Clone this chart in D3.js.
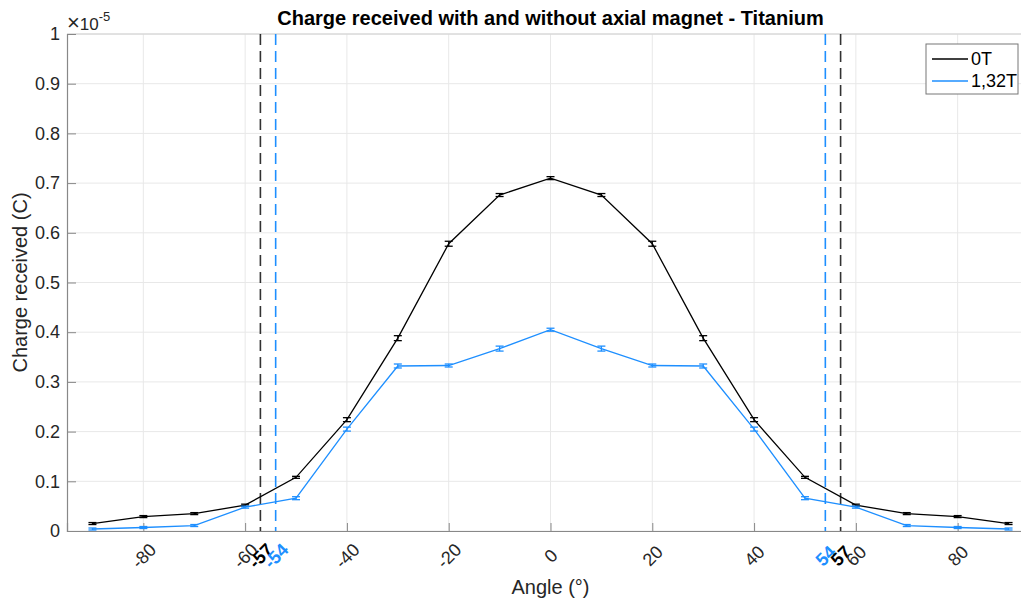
<!DOCTYPE html>
<html>
<head>
<meta charset="utf-8">
<script src="https://cdn.jsdelivr.net/npm/d3@7"></script>
<style>
  html, body { margin: 0; padding: 0; background: #fff; }
  svg { display: block; font-family: "Liberation Sans", Arial, Helvetica, sans-serif; }
</style>
</head>
<body>
<svg id="chart" width="1021" height="602"></svg>
<script>
// ---- data (charge in units of 1e-5 C) ----
const angles = [-90, -80, -70, -60, -50, -40, -30, -20, -10, 0, 10, 20, 30, 40, 50, 60, 70, 80, 90];
const charge0T = [0.015, 0.029, 0.035, 0.052, 0.108, 0.224, 0.388, 0.578, 0.676, 0.710, 0.676, 0.578, 0.388, 0.224, 0.108, 0.052, 0.035, 0.029, 0.015];
const err0T    = [0.002, 0.002, 0.002, 0.002, 0.002, 0.004, 0.005, 0.005, 0.003, 0.003, 0.003, 0.005, 0.005, 0.004, 0.002, 0.002, 0.002, 0.002, 0.002];
const charge132T = [0.004, 0.007, 0.011, 0.048, 0.066, 0.205, 0.332, 0.333, 0.367, 0.405, 0.367, 0.333, 0.332, 0.205, 0.066, 0.048, 0.011, 0.007, 0.004];
const err132T    = [0.002, 0.002, 0.002, 0.002, 0.003, 0.004, 0.004, 0.003, 0.005, 0.003, 0.005, 0.003, 0.004, 0.004, 0.003, 0.002, 0.002, 0.002, 0.002];
const seriesNames = ["0T", "1,32T"];
const xTicks = [-80, -60, -40, -20, 0, 20, 40, 60, 80];
const yTicks = [0, 0.1, 0.2, 0.3, 0.4, 0.5, 0.6, 0.7, 0.8, 0.9, 1];
const markerLines = [
  { angle: -57, series: 0 }, { angle: -54, series: 1 },
  { angle: 54, series: 1 }, { angle: 57, series: 0 }
];
const titleText = "Charge received with and without axial magnet - Titanium";
const xLabel = "Angle (°)";
const yLabel = "Charge received (C)";

// ---- layout ----
const colors = ["#000000", "#1E8FFF"];
const axisColor = "#262626";
const gridColor = "#e8e8e8";
const mLeft = 67, mRight = 1034, mTop = 34, mBottom = 531;

const svg = d3.select("#chart");
const x = d3.scaleLinear().domain([-95, 95]).range([mLeft, mRight]);
const y = d3.scaleLinear().domain([0, 1]).range([mBottom, mTop]);

svg.append("defs").append("clipPath").attr("id", "clip")
  .append("rect").attr("x", mLeft).attr("y", mTop).attr("width", mRight - mLeft).attr("height", mBottom - mTop);

// grid
const grid = svg.append("g");
grid.selectAll("line.gx").data(xTicks).join("line").attr("class", "gx")
  .attr("x1", d => x(d)).attr("x2", d => x(d)).attr("y1", mTop).attr("y2", mBottom)
  .attr("stroke", gridColor).attr("stroke-width", 1);
grid.selectAll("line.gy").data(yTicks).join("line").attr("class", "gy")
  .attr("x1", mLeft).attr("x2", mRight).attr("y1", d => y(d)).attr("y2", d => y(d))
  .attr("stroke", gridColor).attr("stroke-width", 1);

// box (top)
svg.append("line").attr("x1", mLeft).attr("x2", mRight).attr("y1", mTop).attr("y2", mTop)
  .attr("stroke", "#d0d0d0").attr("stroke-width", 1);

// y axis
const yAxis = d3.axisLeft(y).tickValues(yTicks).tickSize(-9).tickPadding(16)
  .tickFormat(d => d === 0 || d === 1 ? String(d) : d.toFixed(1));
const gy = svg.append("g").attr("transform", `translate(${mLeft},0)`).call(yAxis);
gy.select(".domain").attr("stroke", "#888").attr("stroke-width", 1.2);
gy.selectAll(".tick line").attr("stroke", "#888");
gy.selectAll(".tick text").attr("fill", axisColor).style("font-size", "18px")
  .attr("x", -7);

// x axis
const allXTicks = [...xTicks, ...markerLines.map(m => m.angle)].sort((a, b) => a - b);
const xAxis = d3.axisBottom(x).tickValues(allXTicks).tickSize(-8).tickFormat(d => String(d));
const gx = svg.append("g").attr("transform", `translate(0,${mBottom})`).call(xAxis);
gx.select(".domain").attr("stroke", "#888").attr("stroke-width", 1.2);
gx.selectAll(".tick line").attr("stroke", d => xTicks.includes(d) ? "#888" : "none");
gx.selectAll(".tick text")
  .attr("fill", d => {
    const m = markerLines.find(mm => mm.angle === d);
    return m ? colors[m.series] : axisColor;
  })
  .style("font-weight", d => markerLines.find(mm => mm.angle === d) ? "bold" : "normal")
  .style("font-size", "18px")
  .attr("text-anchor", "middle")
  .attr("dominant-baseline", "central")
  .attr("y", 0).attr("dy", 0)
  .attr("transform", "translate(0,25) rotate(-45)");

// dashed marker lines
svg.append("g").selectAll("line").data(markerLines).join("line")
  .attr("x1", d => x(d.angle)).attr("x2", d => x(d.angle))
  .attr("y1", mTop).attr("y2", mBottom)
  .attr("stroke", d => colors[d.series]).attr("stroke-width", 1.6)
  .attr("stroke-dasharray", "11,6").attr("opacity", d => d.series === 0 ? 0.8 : 1);

// series
const seriesData = [
  angles.map((a, i) => ({ a, v: charge0T[i], e: err0T[i] })),
  angles.map((a, i) => ({ a, v: charge132T[i], e: err132T[i] }))
];
const line = d3.line().x(d => x(d.a)).y(d => y(d.v));
const plot = svg.append("g").attr("clip-path", "url(#clip)");
seriesData.forEach((data, si) => {
  const g = plot.append("g");
  g.append("path").datum(data).attr("d", line)
    .attr("fill", "none").attr("stroke", colors[si]).attr("stroke-width", 1.3);
  const eb = g.selectAll("g.eb").data(data).join("g").attr("class", "eb");
  eb.append("line").attr("x1", d => x(d.a)).attr("x2", d => x(d.a))
    .attr("y1", d => y(d.v - d.e)).attr("y2", d => y(d.v + d.e))
    .attr("stroke", colors[si]).attr("stroke-width", 1.3);
  eb.append("line").attr("x1", d => x(d.a) - 4).attr("x2", d => x(d.a) + 4)
    .attr("y1", d => y(d.v - d.e)).attr("y2", d => y(d.v - d.e))
    .attr("stroke", colors[si]).attr("stroke-width", 1.3);
  eb.append("line").attr("x1", d => x(d.a) - 4).attr("x2", d => x(d.a) + 4)
    .attr("y1", d => y(d.v + d.e)).attr("y2", d => y(d.v + d.e))
    .attr("stroke", colors[si]).attr("stroke-width", 1.3);
});

// exponent
const exp = svg.append("text").attr("x", 67).attr("y", 30).attr("fill", axisColor)
  .style("font-size", "17px");
exp.append("tspan").style("font-size", "22px").text("×");
exp.append("tspan").text("10");
exp.append("tspan").attr("dy", -9).style("font-size", "13px").text("-5");

// title
svg.append("text").attr("x", (mLeft + mRight) / 2).attr("y", 25).attr("text-anchor", "middle")
  .style("font-size", "20px").style("font-weight", "bold").attr("fill", "#000").text(titleText);

// axis labels
svg.append("text").attr("x", (mLeft + mRight) / 2).attr("y", 594).attr("text-anchor", "middle")
  .style("font-size", "20px").attr("fill", axisColor).text(xLabel);
svg.append("text").attr("transform", `translate(27,${(mTop + mBottom) / 2}) rotate(-90)`)
  .attr("text-anchor", "middle").style("font-size", "20px").attr("fill", axisColor).text(yLabel);

// legend
const lg = svg.append("g").attr("transform", "translate(926,44)");
lg.append("rect").attr("width", 92).attr("height", 50).attr("fill", "#fff")
  .attr("stroke", "#777").attr("stroke-width", 1);
seriesNames.forEach((name, i) => {
  const yy = 15 + i * 22;
  lg.append("line").attr("x1", 6).attr("x2", 42).attr("y1", yy).attr("y2", yy)
    .attr("stroke", colors[i]).attr("stroke-width", 1.3);
  lg.append("text").attr("x", 45).attr("y", yy).attr("dominant-baseline", "central")
    .style("font-size", "18px").attr("fill", "#000").text(name);
});
</script>
</body>
</html>
